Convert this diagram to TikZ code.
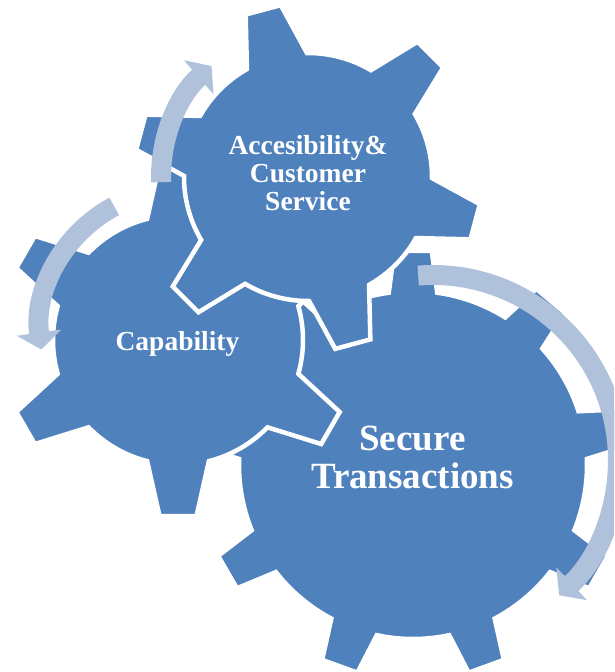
\documentclass[tikz,border=0pt]{standalone}
\usepackage{fontspec}
\setmainfont{Liberation Serif}
\usepackage{tikz}
\usetikzlibrary{arrows.meta, calc}
\definecolor{gearblue}{RGB}{79,129,189}
\definecolor{arrowblue}{RGB}{176,193,220}
\tikzset{
  x=1pt, y=-1pt, % one unit is one pixel, y grows downwards
  gearshape/.style={fill=gearblue, draw=white, line width=4.5pt}, % gears get a white rim
  spinarrow/.style={draw=arrowblue, line width=20pt, -{Triangle[width=44pt, length=17pt]}}, % curved arrows round the gears
  gearlabel/.style={text=white, align=center, inner sep=0pt, font=\bfseries\fontsize{27.5}{28}\selectfont}, % white bold text
}
% center, body radius, tip radius, teeth, first tooth angle, root half angle, tip half angle
\newcommand{\drawgear}[7]{%
  \begin{scope}[shift={(#1)}]
    \path[gearshape] ({#5-#6}:#2)
      \foreach \k [evaluate=\k as \a using {#5+(\k-1)*360/#4}] in {1,...,#4} {
        -- ({\a-#7}:#3) -- ({\a+#7}:#3) -- ({\a+#6}:#2)
        arc[start angle={\a+#6}, end angle={\a+360/#4-#6}, radius=#2]
      } -- cycle;
  \end{scope}
}

\begin{document}
\begin{tikzpicture}
  \useasboundingbox (0,0) rectangle (614,672);
  \clip (0,0) rectangle (614,672);

  \coordinate (bigc) at (413,465);
  \coordinate (smallc) at (178,340);
  \coordinate (midc) at (308,177);

  \drawgear{bigc}{174}{215}{9}{-90}{8}{5}
  \drawgear{smallc}{125}{177}{6}{90}{14.3}{6}
  \drawgear{midc}{124}{174}{6}{-105}{14.5}{6}

  % arrows
  \coordinate (arrowM) at ($(midc)+(178:147)$);
  \coordinate (arrowS) at ($(180,330)+(242:140)$);
  \coordinate (arrowB) at ($(433,460)+(-94.6:185)$);
  \draw[spinarrow] (arrowM) arc[start angle=178, end angle=229, radius=147];
  \draw[spinarrow] (arrowS) arc[start angle=242, end angle=172, radius=140];
  \draw[spinarrow] (arrowB) arc[start angle=-94.6, end angle=47, radius=185];

  \node[gearlabel] (access) at (308,173) {Accesibility\&\\Customer\\Service};
  \node[gearlabel, anchor=base] (capab) at (177.5,350) {Capability};
  \node[gearlabel, font=\bfseries\fontsize{37}{38.6}\selectfont] (secure) at (412.5,457.5) {Secure\\Transactions};
\end{tikzpicture}
\end{document}
